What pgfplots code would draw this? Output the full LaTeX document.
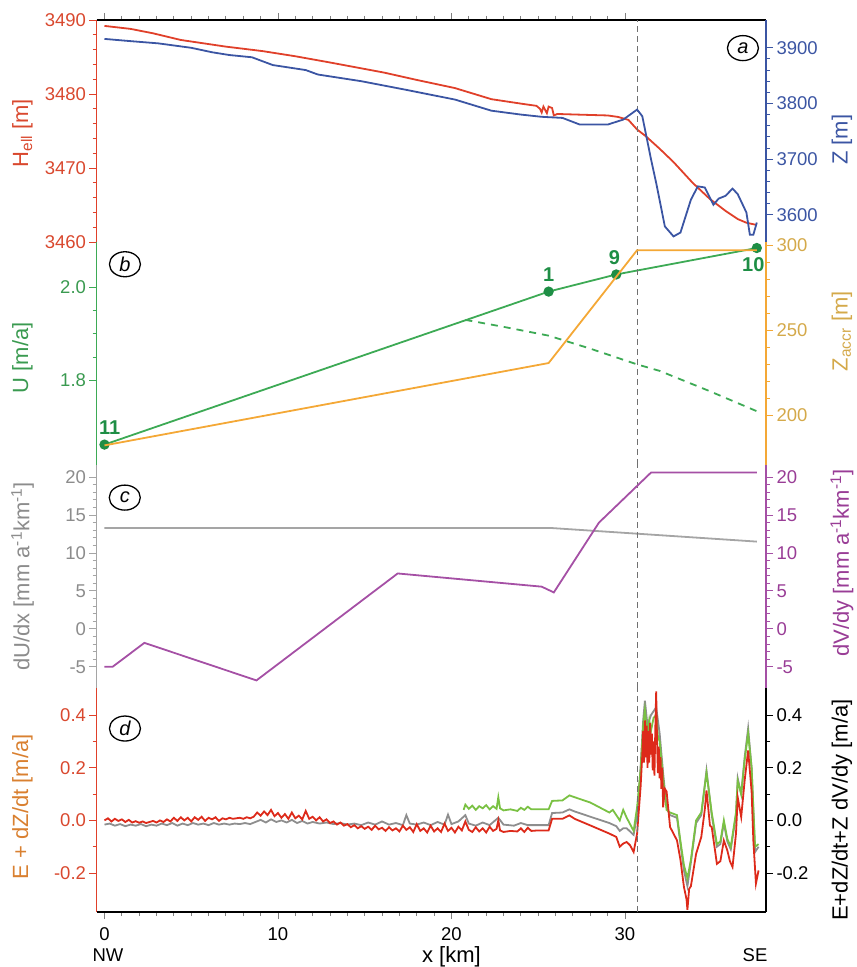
\documentclass[border=0pt]{standalone}
\usepackage{pgfplots}
\pgfplotsset{compat=1.18}
\usepackage{fontspec}
\setmainfont{Liberation Sans}
\usetikzlibrary{shapes.geometric}

\definecolor{cHell}{HTML}{E0402A}
\definecolor{cHellT}{HTML}{D9482E}
\definecolor{cZ}{HTML}{3B55A3}
\definecolor{cU}{HTML}{3DAA55}
\definecolor{cUT}{HTML}{3A9A50}
\definecolor{cPt}{HTML}{1E8E45}
\definecolor{cAcc}{HTML}{F4A836}
\definecolor{cAccT}{HTML}{D4A94A}
\definecolor{cGr}{HTML}{A5A5A5}
\definecolor{cGrT}{HTML}{8C8C8C}
\definecolor{cPu}{HTML}{A550A5}
\definecolor{cPuT}{HTML}{993D96}
\definecolor{cDred}{HTML}{DD2A1A}
\definecolor{cDgray}{HTML}{8E8E8E}
\definecolor{cDgreen}{HTML}{7AC143}
\definecolor{cElab}{HTML}{D98030}
\definecolor{cDash}{HTML}{707070}

\pgfplotsset{
  base/.style={
    scale only axis, width=669.5pt, xmin=-0.46, xmax=38.13,
    tick align=outside, major tick length=7pt, minor tick length=4pt,
    /pgf/number format/assume math mode=true,
    /pgf/number format/1000 sep={},
    tick label style={font=\fontsize{18.5}{20}\selectfont},
    label style={font=\fontsize{22}{24}\selectfont},
    axis line style={-, line width=1.3pt},
    every tick/.append style={line width=0.9pt},
  },
  lefty/.style={axis y line*=left,
    ylabel style={at={(axis description cs:-0.1105,#1)}, anchor=center, rotate=0}},
  righty/.style={axis y line*=right,
    ylabel style={at={(axis description cs:1.1135,#1)}, anchor=center, rotate=0}},
}
\tikzset{
  pnl/.style={draw, ellipse, line width=1.3pt, minimum width=31pt, minimum height=25pt, inner sep=0pt,
    font=\itshape\fontsize{20}{20}\selectfont},
  ptl/.style={text=cPt, font=\bfseries\fontsize{20}{20}\selectfont},
  vdash/.style={cDash, dash pattern=on 6pt off 4pt, line width=0.8pt},
}

\begin{document}
\begin{tikzpicture}
\useasboundingbox (0pt,0pt) rectangle (857pt,967pt);

% ================= panel a =================
\begin{axis}[base, lefty=0.49, at={(96.5pt,725pt)}, anchor=south west, height=222pt,
  ymin=3460, ymax=3490, ytick={3460,3470,3480,3490}, minor y tick num=4,
  axis x line*=top, xtick={0,10,20,30}, minor x tick num=9, xticklabels={},
  y axis line style={cHell}, x axis line style={black},
  ytick style={cHell}, yticklabel style={text=cHellT},
  ylabel={H\textsubscript{ell} [m]}, ylabel style={text=cHellT}]
\addplot[cHell, line width=1.8pt] coordinates {
(0,3489.2) (1.5,3488.8) (2.8,3488.2) (4.4,3487.3) (7,3486.4) (9.1,3485.8) (11,3485.1)
(12.9,3484.3) (16.1,3482.9) (18,3481.9) (20.2,3480.8) (22.3,3479.3) (24.0,3478.7)
(24.9,3478.4) (25.1,3478.0) (25.2,3477.5) (25.3,3478.3) (25.5,3477.4) (25.6,3478.3)
(25.8,3478.1) (25.9,3477.1) (26.1,3477.3) (27.5,3477.2) (29.0,3477.1) (29.6,3476.9)
(30.2,3476.5) (30.7,3475.2) (31.2,3474.3) (32.0,3472.6) (32.8,3470.8) (33.9,3468.0)
(34.9,3465.8) (35.8,3464.2) (36.5,3463.1) (37.0,3462.6) (37.6,3462.3)
};
\draw[vdash] (axis cs:30.7,3460) -- (axis cs:30.7,3490);
\node[pnl] at (axis cs:36.8,3486.2) {a};
\end{axis}
\begin{axis}[base, righty=0.46, at={(96.5pt,725pt)}, anchor=south west, height=222pt,
  ymin=3551, ymax=3950, ytick={3600,3700,3800,3900}, minor y tick num=4,
  hide x axis, y axis line style={cZ}, ytick style={cZ}, yticklabel style={text=cZ},
  ylabel={Z [m]}, ylabel style={text=cZ}]
\addplot[cZ, line width=1.8pt] coordinates {
(0,3916) (1.5,3912) (3.1,3908) (5,3900) (6.2,3892) (7.2,3887) (8.5,3883) (9.7,3869)
(11.6,3860) (12.3,3852) (14.8,3840) (17.3,3825) (20.2,3807) (22.3,3787) (24,3780)
(25.2,3776) (26.4,3774) (27.4,3762) (29.0,3762) (29.9,3771) (30.7,3789) (31.0,3777)
(31.5,3700) (31.8,3657) (32.3,3579) (32.8,3561) (33.2,3568) (33.8,3627) (34.2,3651)
(34.6,3649) (35.1,3618) (35.4,3629) (35.8,3634) (36.2,3647) (36.5,3637) (37.0,3604)
(37.2,3564) (37.4,3564) (37.6,3586)
};
\end{axis}

% ================= panel b =================
\begin{axis}[base, lefty=0.48, at={(96.5pt,502pt)}, anchor=south west, height=223pt,
  ymin=1.617, ymax=2.098, ytick={1.8,2.0}, minor y tick num=3, hide x axis,
  y axis line style={cU}, ytick style={cU}, yticklabel style={text=cUT,
  /pgf/number format/fixed, /pgf/number format/fixed zerofill, /pgf/number format/precision=1},
  ylabel={U [m/a]}, ylabel style={text=cUT}]
\addplot[cU, line width=1.8pt, dash pattern=on 7pt off 6pt] coordinates {
(20.8,1.930) (23,1.915) (25.6,1.896) (28,1.868) (30.7,1.834) (32.0,1.820) (34.9,1.776) (37.6,1.733)
};
\addplot[cU, line width=1.8pt, mark=*, mark size=4.2pt, mark options={fill=cPt, draw=cPt}] coordinates {
(0,1.661) (25.6,1.991) (29.5,2.028) (37.6,2.085)
};
\node[ptl, anchor=south] at (axis cs:0.3,1.675) {11};
\node[ptl, anchor=south] at (axis cs:25.6,2.005) {1};
\node[ptl, anchor=south] at (axis cs:29.4,2.042) {9};
\node[ptl, anchor=north] at (axis cs:37.4,2.072) {10};
\draw[vdash] (axis cs:30.7,1.617) -- (axis cs:30.7,2.098);
\node[pnl] at (axis cs:1.18,2.05) {b};
\end{axis}
\begin{axis}[base, righty=0.6, at={(96.5pt,502pt)}, anchor=south west, height=223pt,
  ymin=171, ymax=301.8, ytick={200,250,300}, minor y tick num=4, hide x axis,
  y axis line style={cAcc}, ytick style={cAcc}, yticklabel style={text=cAccT},
  ylabel={Z\textsubscript{accr} [m]}, ylabel style={text=cAccT}]
\addplot[cAcc, line width=1.8pt] coordinates {
(0,182.5) (25.6,230.8) (30.7,297) (37.6,297)
};
\end{axis}

% ================= panel c =================
\begin{axis}[base, lefty=0.5, at={(96.5pt,279pt)}, anchor=south west, height=223pt,
  ymin=-7.8, ymax=21.6, ytick={-5,0,5,10,15,20}, minor y tick num=4, hide x axis,
  y axis line style={cGr}, ytick style={cGr}, yticklabel style={text=cGrT},
  ylabel={dU/dx [mm a\textsuperscript{-1}km\textsuperscript{-1}]}, ylabel style={text=cGrT}]
\addplot[cGr, line width=1.8pt] coordinates {
(0,13.3) (25.7,13.3) (37.6,11.5)
};
\draw[vdash] (axis cs:30.7,-7.8) -- (axis cs:30.7,21.6);
\node[pnl] at (axis cs:1.17,17.3) {c};
\end{axis}
\begin{axis}[base, righty=0.56, at={(96.5pt,279pt)}, anchor=south west, height=223pt,
  ymin=-7.8, ymax=21.6, ytick={-5,0,5,10,15,20}, minor y tick num=4, hide x axis,
  y axis line style={cPu}, ytick style={cPu}, yticklabel style={text=cPuT},
  ylabel={dV/dy [mm a\textsuperscript{-1}km\textsuperscript{-1}]}, ylabel style={text=cPuT}]
\addplot[cPu, line width=1.8pt] coordinates {
(0,-5.0) (0.47,-5.0) (2.3,-1.85) (8.76,-6.8) (16.9,7.3) (25.2,5.56) (25.9,4.8)
(28.5,14.0) (31.5,20.6) (37.6,20.6)
};
\end{axis}

% ================= panel d =================
\begin{axis}[base, lefty=0.47, at={(96.5pt,55pt)}, anchor=south west, height=224pt,
  ymin=-0.348, ymax=0.503, ytick={-0.2,0,0.2,0.4}, minor y tick num=1,
  axis x line*=bottom, xtick={0,10,20,30}, minor x tick num=9,
  xticklabel style={yshift=-5pt},
  xlabel={x [km]}, xlabel style={at={(axis cs:20,-0.348)}, anchor=north, yshift=-31pt},
  y axis line style={cHell}, x axis line style={black},
  ytick style={cHell}, yticklabel style={text=cHellT,
  /pgf/number format/fixed, /pgf/number format/fixed zerofill, /pgf/number format/precision=1},
  ylabel={E + dZ/dt [m/a]}, ylabel style={text=cElab}]
\addplot[cDgray, line width=1.8pt] coordinates {
(0.0,-0.016) (0.3,-0.012) (0.6,-0.020) (0.9,-0.014) (1.2,-0.022) (1.5,-0.016) (1.8,-0.020)
(2.1,-0.014) (2.4,-0.022) (2.7,-0.016) (3.0,-0.020) (3.3,-0.012) (3.6,-0.018) (3.9,-0.010)
(4.2,-0.020) (4.5,-0.012) (4.8,-0.018) (5.1,-0.010) (5.4,-0.016) (5.7,-0.012) (6.0,-0.018)
(6.3,-0.010) (6.6,-0.016) (6.9,-0.012) (7.2,-0.016) (7.5,-0.012) (7.8,-0.014) (8.1,-0.010)
(8.4,-0.014) (8.7,-0.006) (9.0,0.002) (9.3,-0.008) (9.6,0.004) (9.9,-0.006) (10.2,0.000)
(10.5,-0.008) (10.8,0.002) (11.1,-0.010) (11.4,-0.002) (11.7,-0.012) (12.0,-0.006)
(12.4,-0.012) (12.8,-0.008) (13.2,-0.014) (13.6,-0.010) (14.0,-0.016) (14.4,-0.012)
(14.8,-0.018) (15.2,-0.008) (15.6,-0.016) (16.0,-0.004) (16.4,-0.016) (16.8,-0.010)
(17.2,-0.018) (17.4,0.020) (17.6,-0.012) (18.0,-0.016) (18.4,-0.008) (18.8,-0.018)
(19.2,-0.006) (19.6,-0.016) (19.8,0.022) (20.0,-0.014) (20.4,-0.004) (20.8,0.020)
(21.0,-0.012) (21.4,-0.020) (21.8,-0.008) (22.2,-0.018) (22.7,0.010) (23.0,-0.016)
(23.6,-0.020) (24.0,-0.010) (24.4,-0.018) (25.0,-0.018) (25.6,-0.018) (25.8,0.028)
(26.4,0.030) (26.8,0.042) (27.1,0.034) (28.0,0.014) (29.1,-0.010) (29.5,-0.022)
(29.7,-0.040) (29.9,-0.030) (30.1,-0.030) (30.5,-0.055) (30.7,0.020) (30.9,0.200)
(31.05,0.380) (31.15,0.455) (31.3,0.360) (31.5,0.400) (31.8,0.430) (32.0,0.330)
(32.2,0.180) (32.4,0.050) (32.6,0.020) (33.0,0.010) (33.2,-0.090) (33.4,-0.190)
(33.6,-0.250) (33.8,-0.160) (34.1,-0.010) (34.4,0.020) (34.7,0.190) (35.0,0.020)
(35.3,-0.100) (35.5,-0.090) (35.7,-0.010) (35.9,-0.080) (36.1,-0.110) (36.4,0.020)
(36.5,0.160) (36.7,0.100) (36.9,0.240) (37.1,0.350) (37.3,0.200) (37.5,-0.120) (37.7,-0.100)
};
\addplot[cDgreen, line width=1.8pt] coordinates {
(20.7,0.040) (20.8,0.060) (21.0,0.044) (21.2,0.056) (21.4,0.040) (21.6,0.054) (21.8,0.046)
(22.0,0.058) (22.2,0.042) (22.4,0.054) (22.6,0.044) (22.7,0.088) (22.8,0.046) (23.0,0.038)
(23.4,0.042) (23.8,0.036) (24.0,0.048) (24.2,0.040) (24.4,0.052) (24.6,0.042) (25.0,0.042)
(25.6,0.042) (25.8,0.074) (26.4,0.076) (26.8,0.095) (27.1,0.088) (28.0,0.068) (29.1,0.030)
(29.3,0.040) (29.5,0.020) (29.7,0.000) (29.9,0.040) (30.1,0.010) (30.5,-0.040) (30.7,0.050)
(30.9,0.190) (31.05,0.360) (31.15,0.420) (31.3,0.320) (31.4,0.380) (31.5,0.340) (31.65,0.390)
(31.8,0.400) (31.9,0.320) (32.0,0.300) (32.1,0.230) (32.2,0.160) (32.4,0.040) (32.6,0.030)
(33.0,0.020) (33.2,-0.080) (33.4,-0.170) (33.6,-0.220) (33.8,-0.150) (34.1,0.000)
(34.4,0.030) (34.7,0.180) (35.0,0.030) (35.3,-0.090) (35.5,-0.080) (35.7,0.000)
(35.9,-0.070) (36.1,-0.100) (36.4,0.030) (36.5,0.150) (36.7,0.100) (36.9,0.230)
(37.1,0.330) (37.3,0.200) (37.5,-0.100) (37.7,-0.090)
};
\addplot[cDred, line width=1.8pt] coordinates {
(0.0,0.000) (0.2,0.008) (0.4,-0.004) (0.6,0.006) (0.8,-0.002) (1.0,0.004) (1.2,-0.006)
(1.4,0.002) (1.6,-0.008) (1.8,-0.003) (2.0,-0.009) (2.2,-0.004) (2.4,-0.010) (2.6,-0.006)
(2.8,-0.002) (3.0,-0.008) (3.2,0.000) (3.4,-0.006) (3.6,0.004) (3.8,-0.004) (4.0,0.010)
(4.2,-0.002) (4.4,0.012) (4.6,0.000) (4.8,0.010) (5.0,-0.004) (5.2,0.012) (5.4,0.002)
(5.6,0.014) (5.8,-0.002) (6.0,0.010) (6.2,0.004) (6.4,0.012) (6.6,-0.002) (6.8,0.008)
(7.0,0.004) (7.2,0.010) (7.4,0.006) (7.6,0.008) (7.8,0.010) (8.0,0.006) (8.2,0.012)
(8.4,0.008) (8.6,0.014) (8.8,0.030) (9.0,0.018) (9.2,0.034) (9.4,0.020) (9.6,0.040)
(9.8,0.016) (10.0,0.028) (10.2,0.010) (10.4,0.024) (10.6,0.006) (10.8,0.030) (11.0,0.008)
(11.2,0.018) (11.4,0.004) (11.6,0.036) (11.8,0.006) (12.0,0.014) (12.2,0.000) (12.4,0.012)
(12.6,-0.004) (12.8,0.004) (13.0,-0.010) (13.2,-0.004) (13.4,-0.016) (13.6,-0.008)
(13.8,-0.020) (14.0,-0.014) (14.2,-0.026) (14.4,-0.018) (14.6,-0.030) (14.8,-0.022)
(15.0,-0.032) (15.2,-0.024) (15.4,-0.036) (15.6,-0.020) (15.8,-0.034) (16.0,-0.028)
(16.2,-0.040) (16.4,-0.026) (16.6,-0.038) (16.8,-0.030) (17.0,-0.042) (17.2,-0.020)
(17.4,-0.036) (17.6,-0.026) (17.8,-0.044) (18.0,-0.014) (18.2,-0.040) (18.4,-0.030)
(18.6,-0.046) (18.8,-0.020) (19.0,-0.042) (19.2,-0.030) (19.4,-0.044) (19.6,-0.012)
(19.8,-0.040) (20.0,-0.028) (20.2,-0.046) (20.4,-0.024) (20.6,-0.038) (20.8,-0.004)
(21.0,-0.036) (21.2,-0.044) (21.4,-0.026) (21.6,-0.042) (21.8,-0.030) (22.0,-0.046)
(22.2,-0.024) (22.4,-0.040) (22.6,-0.032) (22.7,0.000) (22.8,-0.038) (23.0,-0.044)
(23.4,-0.040) (23.8,-0.042) (24.0,-0.030) (24.2,-0.044) (24.4,-0.028) (24.6,-0.040)
(25.0,-0.038) (25.6,-0.038) (25.8,0.006) (26.4,0.006) (26.8,0.019) (27.1,0.006)
(28.0,-0.019) (29.1,-0.050) (29.5,-0.063) (29.7,-0.100) (29.9,-0.088) (30.1,-0.082)
(30.3,-0.095) (30.5,-0.120) (30.7,-0.050) (30.9,0.126) (31.00,0.25) (31.05,0.34)
(31.10,0.22) (31.15,0.38) (31.20,0.24) (31.25,0.36) (31.30,0.20) (31.35,0.34) (31.40,0.22)
(31.45,0.37) (31.50,0.25) (31.55,0.33) (31.60,0.19) (31.65,0.30) (31.70,0.17) (31.75,0.35)
(31.80,0.49) (31.85,0.30) (31.90,0.18) (31.95,0.28) (32.00,0.16) (32.05,0.24) (32.10,0.12)
(32.15,0.20) (32.20,0.05) (32.3,0.120) (32.4,0.110) (32.6,-0.025) (33.0,-0.076)
(33.2,-0.150) (33.4,-0.253) (33.55,-0.300) (33.6,-0.340) (33.7,-0.260) (33.8,-0.250)
(34.1,-0.127) (34.4,-0.063) (34.6,0.040) (34.7,0.114) (34.9,-0.020) (35.0,-0.025)
(35.3,-0.165) (35.5,-0.155) (35.7,-0.076) (35.9,-0.114) (36.05,-0.155) (36.2,-0.177)
(36.4,-0.050) (36.5,0.088) (36.7,0.013) (36.9,0.152) (37.1,0.266) (37.3,0.110)
(37.4,-0.076) (37.55,-0.240) (37.7,-0.190)
};
\draw[vdash] (axis cs:30.7,-0.348) -- (axis cs:30.7,0.503);
\node[pnl] at (axis cs:1.18,0.349) {d};
\end{axis}
\begin{axis}[base, righty=0.455, at={(96.5pt,55pt)}, anchor=south west, height=224pt,
  ymin=-0.348, ymax=0.503, ytick={-0.2,0,0.2,0.4}, minor y tick num=1, hide x axis,
  y axis line style={black}, ytick style={black}, yticklabel style={text=black,
  /pgf/number format/fixed, /pgf/number format/fixed zerofill, /pgf/number format/precision=1},
  ylabel={E+dZ/dt+Z dV/dy [m/a]}, ylabel style={text=black}]
\end{axis}
% NW / SE direction labels
\begin{axis}[base, at={(96.5pt,55pt)}, anchor=south west, height=224pt,
  ymin=-0.348, ymax=0.503, hide axis, clip=false]
\node[font=\fontsize{18.5}{20}\selectfont, anchor=north] at (axis cs:0.2,-0.348) [yshift=-33pt] {NW};
\node[font=\fontsize{18.5}{20}\selectfont, anchor=north] at (axis cs:37.5,-0.348) [yshift=-33pt] {SE};
\end{axis}
\end{tikzpicture}
\end{document}
